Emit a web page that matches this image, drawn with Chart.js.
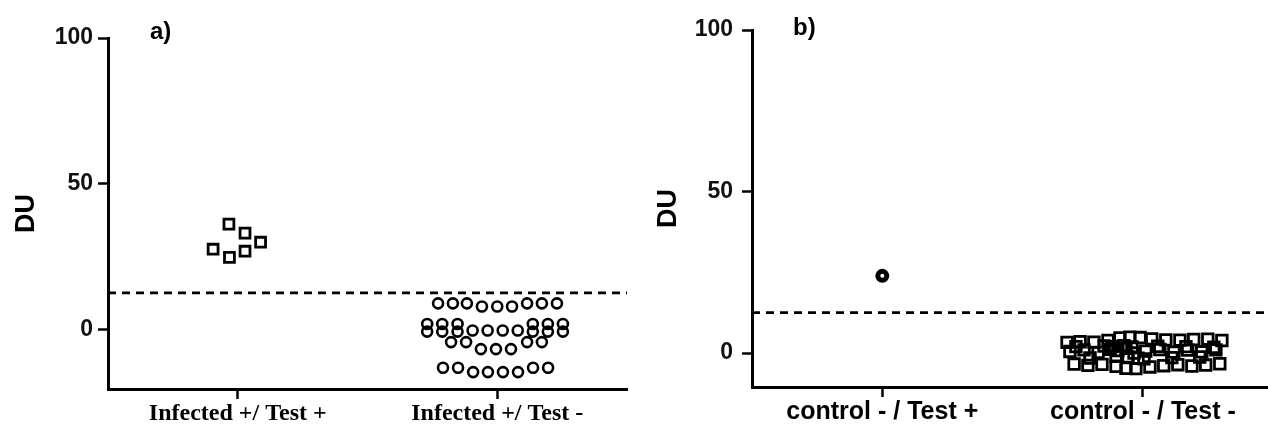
<!DOCTYPE html>
<html><head><meta charset="utf-8">
<script src="https://cdn.jsdelivr.net/npm/chart.js@4.4.1/dist/chart.umd.min.js"></script>
<style>
html,body{margin:0;padding:0;background:#fff;width:1268px;height:425px;overflow:hidden;}
.panel{position:absolute;top:0;}
.lbl{position:absolute;font-family:"Liberation Sans",Arial,sans-serif;font-weight:bold;font-size:24px;line-height:24px;color:#000;}
</style></head><body>
<div class="panel" style="left:0;width:634px;height:425px"><canvas id="cA" width="634" height="425"></canvas></div>
<div class="panel" style="left:640px;width:628px;height:425px"><canvas id="cB" width="628" height="425"></canvas></div>
<div class="lbl" style="left:150px;top:19px">a)</div>
<div class="lbl" style="left:793px;top:15px">b)</div>
<script>
// ---------- data ----------
const categoriesA = ['Infected +/ Test +', 'Infected +/ Test -'];
const categoriesB = ['control - / Test +', 'control - / Test -'];
const yTickValues = [0, 50, 100];
const yTitle = 'DU';
const cutoffA = 12.5;
const cutoffB = 12.5;

// panel a) group 1 : Infected +/ Test +
const jitterA1 = [-0.034, 0.028, 0.088, -0.095, -0.032, 0.028];
const valuesA1 = [36.1, 33.0, 29.9, 27.5, 24.7, 26.8];

// panel a) group 2 : Infected +/ Test -
const jitterA2 = [
  -0.228, -0.171, -0.117, -0.059, 0.000, 0.057, 0.115, 0.172, 0.230,
  -0.270, -0.270, -0.212, -0.212, -0.153, -0.153, -0.095, -0.037, 0.021, 0.079, 0.137, 0.137, 0.195, 0.195, 0.253, 0.253,
  -0.178, -0.120, -0.063, -0.005, 0.053, 0.115, 0.172,
  -0.209, -0.151, -0.093, -0.036, 0.022, 0.080, 0.138, 0.196
];
const valuesA2 = [
  8.9, 8.9, 8.9, 7.8, 7.8, 7.8, 8.9, 8.9, 8.9,
  1.8, -0.8, 1.8, -0.8, 1.8, -0.8, -0.4, -0.4, -0.4, -0.4, 1.8, -0.8, 1.8, -0.8, 1.8, -0.8,
  -4.4, -4.4, -6.8, -6.8, -6.8, -4.4, -4.4,
  -13.2, -13.2, -14.7, -14.7, -14.7, -14.7, -13.2, -13.2
];

// panel b) group 1 : control - / Test +
const jitterB1 = [0];
const valuesB1 = [23.9];

// panel b) group 2 : control - / Test -
const jitterB2 = [
  -0.291, -0.241, -0.188, -0.134, -0.088, -0.050, -0.011, 0.034, 0.088, 0.142, 0.195, 0.249, 0.303,
  -0.280, -0.226, -0.172, -0.126, -0.096, -0.065, -0.034, 0.011, 0.065, 0.119, 0.172, 0.226, 0.280,
  -0.264, -0.211, -0.157, -0.103, -0.065, -0.027, 0.027, 0.080, 0.134, 0.188, 0.241, 0.295,
  -0.119, -0.073, -0.057, -0.019,
  -0.257, -0.203, -0.149, -0.103, -0.042, 0.004, 0.057, 0.111, 0.165, 0.218, 0.272
];
const valuesB2 = [
  3.3, 3.5, 3.4, 3.9, 4.7, 4.9, 4.8, 4.4, 4.1, 4.0, 4.2, 4.3, 3.9,
  0.5, 1.0, 0.2, 1.2, 0.8, 1.5, 0.0, 0.6, 1.1, 0.3, 0.9, 0.4, 1.0,
  -3.4, -3.8, -3.5, -4.1, -4.7, -4.8, -4.3, -3.9, -3.6, -4.0, -3.7, -3.3,
  2.0, 2.3, -1.2, -1.6,
  2.0, -1.5, 2.2, -1.0, 1.9, -1.8, 2.1, -1.4, 2.0, -1.2, 1.8
];

// ---------- chart building ----------
Chart.defaults.font.family = '"Liberation Sans", Arial, sans-serif';
Chart.defaults.color = '#000';

function pts(catIndex, jitter, values) {
  return values.map((v, i) => ({x: catIndex + jitter[i], y: v}));
}

function makeChart(id, cfg) {
  const cats = cfg.categories;
  const datasets = cfg.groups.map(g => ({
    data: pts(g.cat, g.jitter, g.values),
    pointStyle: g.style,
    pointRadius: g.radius,
    pointHoverRadius: g.radius,
    pointBorderWidth: g.border,
    pointHoverBorderWidth: g.border,
    pointBorderColor: '#000',
    pointBackgroundColor: 'rgba(0,0,0,0)',
    showLine: false
  }));
  datasets.unshift({
    type: 'line',
    data: [{x: cfg.xMin, y: cfg.cutoff}, {x: cfg.xMax, y: cfg.cutoff}],
    borderColor: '#000',
    borderWidth: 2.8,
    borderDash: [8, 6],
    pointRadius: 0,
    showLine: true,
    fill: false,
    clip: false
  });
  return new Chart(document.getElementById(id), {
    type: 'scatter',
    data: {datasets},
    options: {
      responsive: false,
      animation: false,
      events: [],
      layout: {padding: cfg.padding, autoPadding: false},
      plugins: {legend: {display: false}, tooltip: {enabled: false}},
      scales: {
        x: {
          type: 'linear',
          min: cfg.xMin, max: cfg.xMax,
          afterBuildTicks: s => { s.ticks = cats.map((c, i) => ({value: i + 1})); },
          afterFit: s => { s.height = cfg.xAxisHeight; },
          border: {display: true, color: '#000', width: 3},
          grid: {display: true, drawOnChartArea: false, drawTicks: true, tickLength: 10, tickWidth: 2.5, tickColor: '#000'},
          ticks: {
            autoSkip: false, maxRotation: 0, padding: cfg.xTickPad,
            color: '#000',
            font: cfg.xFont,
            callback: v => cats[Math.round(v) - 1]
          }
        },
        y: {
          type: 'linear',
          min: cfg.yMin, max: 100,
          afterBuildTicks: s => { s.ticks = yTickValues.map(v => ({value: v})); },
          afterFit: s => { s.width = cfg.yAxisWidth; },
          border: {display: true, color: '#000', width: 3},
          grid: {display: true, drawOnChartArea: false, drawTicks: true, tickLength: 10, tickWidth: 2.5, tickColor: '#000'},
          ticks: {padding: cfg.yTickPad, color: '#111', font: {size: 23, weight: 'bold'}},
          title: {display: true, text: yTitle, color: '#000', font: {size: 27, weight: 'bold'}, padding: {top: cfg.titlePad, bottom: 0}}
        }
      }
    }
  });
}

makeChart('cA', {
  categories: categoriesA,
  cutoff: cutoffA,
  xMin: 0.5, xMax: 2.5, yMin: -20.5,
  padding: {left: 0, right: 7, top: 38, bottom: 0},
  xAxisHeight: 36, yAxisWidth: 108, xTickPad: 0, yTickPad: 5, titlePad: 10,
  xFont: {family: '"Liberation Serif", "Times New Roman", serif', size: 24, weight: 'bold'},
  groups: [
    {cat: 1, jitter: jitterA1, values: valuesA1, style: 'rect', radius: 7, border: 2.8},
    {cat: 2, jitter: jitterA2, values: valuesA2, style: 'circle', radius: 5, border: 2.6}
  ]
});

makeChart('cB', {
  categories: categoriesB,
  cutoff: cutoffB,
  xMin: 0.5, xMax: 2.48, yMin: -10.5,
  padding: {left: 0, right: 0, top: 30, bottom: 0},
  xAxisHeight: 38, yAxisWidth: 112, xTickPad: 0, yTickPad: 9, titlePad: 12,
  xFont: {size: 25, weight: 'bold'},
  groups: [
    {cat: 1, jitter: jitterB1, values: valuesB1, style: 'circle', radius: 4.5, border: 5},
    {cat: 2, jitter: jitterB2, values: valuesB2, style: 'rect', radius: 7.5, border: 2.8}
  ]
});
</script>
</body></html>
